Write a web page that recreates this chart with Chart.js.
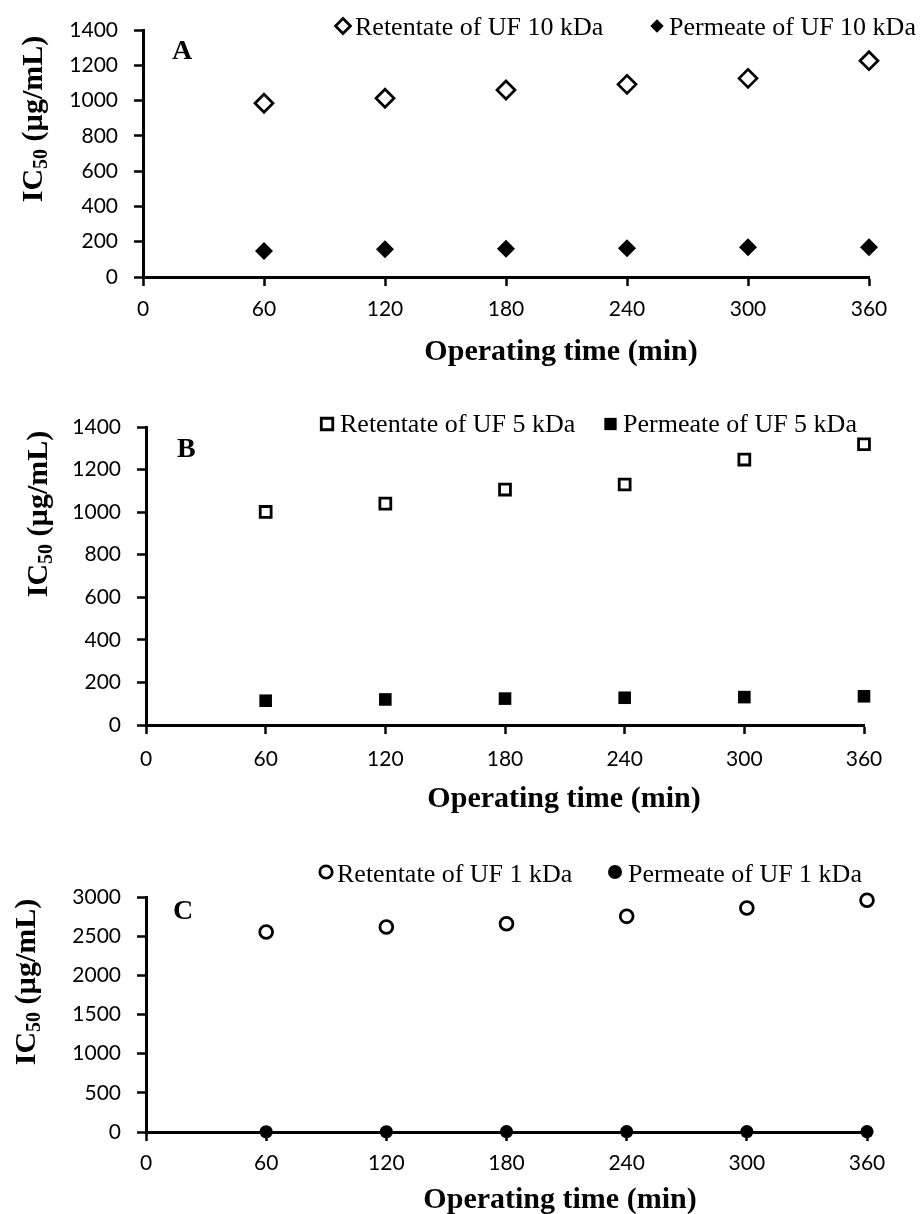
<!DOCTYPE html>
<html>
<head>
<meta charset="utf-8">
<script src="https://cdn.jsdelivr.net/npm/chart.js@4.4.1/dist/chart.umd.min.js"></script>
<style>
  html, body { margin: 0; padding: 0; background: #fff; }
  #wrap { position: relative; width: 922px; height: 1214px; }
  canvas { position: absolute; left: 0; }
</style>
</head>
<body>
<div id="wrap">
  <canvas id="panelA" width="922" height="380" style="top:0px"></canvas>
  <canvas id="panelB" width="922" height="450" style="top:380px"></canvas>
  <canvas id="panelC" width="922" height="384" style="top:830px"></canvas>
</div>
<script>
// Operating time (min)
const times = [60, 120, 180, 240, 300, 360];

// IC50 (µg/mL) per fraction
const retentate10 = [985, 1013, 1060, 1092, 1126, 1226];
const permeate10 = [147, 157, 160, 163, 168, 168];
const retentate5 = [1001, 1040, 1106, 1130, 1247, 1319];
const permeate5 = [114, 120, 124, 128, 131, 135];
const retentate1 = [2553, 2617, 2659, 2753, 2860, 2958];
const permeate1 = [3, 3, 4, 4, 5, 5];

// axis ticks
const xTicks = [0, 60, 120, 180, 240, 300, 360];
const yTicksAB = [0, 200, 400, 600, 800, 1000, 1200, 1400];
const yTicksC = [0, 500, 1000, 1500, 2000, 2500, 3000];

const serif = '"Liberation Serif", "Times New Roman", serif';
const sans = 'Lato, "Open Sans", sans-serif';

function toPoints(ys) {
  return times.map((t, i) => ({ x: t, y: ys[i] }));
}

function drawMarker(ctx, style, r, bw, fill, x, y) {
  ctx.save();
  ctx.lineWidth = bw;
  ctx.strokeStyle = "#000";
  ctx.fillStyle = fill;
  Chart.helpers.drawPoint(ctx, { pointStyle: style, radius: r, rotation: 0, borderWidth: bw }, x, y);
  ctx.restore();
}

// panel letter, axis titles and legend
const panelDecor = {
  id: "panelDecor",
  afterDraw(chart, args, opts) {
    const ctx = chart.ctx;
    const off = opts.offset;
    ctx.save();
    ctx.fillStyle = "#000";
    ctx.textBaseline = "alphabetic";

    ctx.font = "bold 28px " + serif;
    ctx.textAlign = "left";
    ctx.fillText(opts.letter, opts.letterX, opts.letterY - off);

    ctx.font = "bold 30px " + serif;
    ctx.textAlign = "center";
    ctx.fillText("Operating time (min)", opts.xTitleX, opts.xTitleY - off);

    // legend entries
    ctx.font = "26px " + serif;
    ctx.textAlign = "left";
    chart.data.datasets.forEach((ds, i) => {
      const item = opts.legend[i];
      drawMarker(ctx, ds.pointStyle, item.r, ds.pointBorderWidth, ds.pointBackgroundColor, item.mx, opts.legendY - off);
      ctx.fillStyle = "#000";
      ctx.fillText(ds.label, item.tx, opts.legendBase - off);
    });

    // rotated y title with subscript
    ctx.translate(opts.yTitleX, opts.yTitleY - off);
    ctx.rotate(-Math.PI / 2);
    const big = "bold 30px " + serif;
    const small = "bold 20px " + serif;
    ctx.font = big;
    const w1 = ctx.measureText("IC").width;
    const w3 = ctx.measureText(" (µg/mL)").width;
    ctx.font = small;
    const w2 = ctx.measureText("50").width;
    const x0 = -(w1 + w2 + w3) / 2;
    ctx.font = big;
    ctx.fillText("IC", x0, 0);
    ctx.font = small;
    ctx.fillText("50", x0 + w1, 5);
    ctx.font = big;
    ctx.fillText(" (µg/mL)", x0 + w1 + w2, 0);
    ctx.restore();
  },
};

function makePanel(id, box, sets, yMax, yTicks, decor) {
  const canvas = document.getElementById(id);
  const h = canvas.height;
  new Chart(canvas, {
    type: "scatter",
    data: { datasets: sets },
    options: {
      responsive: false,
      animation: false,
      devicePixelRatio: 1,
      layout: {
        padding: { top: box.top - decor.offset, right: 922 - box.right, left: 0, bottom: 0 },
      },
      plugins: {
        legend: { display: false },
        tooltip: { enabled: false },
        panelDecor: decor,
      },
      scales: {
        x: {
          type: "linear",
          min: 0,
          max: 360,
          afterBuildTicks: (s) => { s.ticks = xTicks.map((v) => ({ value: v })); },
          afterFit: (s) => { s.height = h - (box.bottom - decor.offset); },
          ticks: {
            color: "#000",
            padding: box.xPad,
            maxRotation: 0,
            font: { family: sans, size: 21 },
            callback: (v) => String(v),
          },
          grid: { drawOnChartArea: false, drawTicks: true, tickLength: 9, tickWidth: 2.5, tickColor: "#000" },
          border: { display: true, color: "#000", width: 3 },
        },
        y: {
          min: 0,
          max: yMax,
          afterBuildTicks: (s) => { s.ticks = yTicks.map((v) => ({ value: v })); },
          afterFit: (s) => { s.width = box.left; },
          ticks: {
            color: "#000",
            padding: 16,
            font: { family: sans, size: 21 },
            callback: (v) => String(v),
          },
          grid: { drawOnChartArea: false, drawTicks: true, tickLength: 9, tickWidth: 2.5, tickColor: "#000" },
          border: { display: true, color: "#000", width: 3 },
        },
      },
    },
    plugins: [panelDecor],
  });
}

function series(label, ys, style, r, filled, bw) {
  return {
    label: label,
    data: toPoints(ys),
    pointStyle: style,
    pointRadius: r,
    pointBorderWidth: filled ? 0 : bw,
    pointBorderColor: "#000",
    pointBackgroundColor: filled ? "#000" : "#fff",
    showLine: false,
    clip: false,
  };
}

makePanel(
  "panelA",
  { left: 143, right: 869, top: 30, bottom: 277, xPad: 11 },
  [
    series("Retentate of UF 10 kDa", retentate10, "rectRot", 9, false, 2.7),
    series("Permeate of UF 10 kDa", permeate10, "rectRot", 9, true, 0),
  ],
  1400, yTicksAB,
  {
    offset: 0, letter: "A", letterX: 172, letterY: 59,
    xTitleX: 561, xTitleY: 360, yTitleX: 42, yTitleY: 119,
    legendY: 26, legendBase: 35,
    legend: [{ mx: 343, tx: 355, r: 7.5 }, { mx: 657, tx: 669, r: 6.7 }],
  }
);

makePanel(
  "panelB",
  { left: 146, right: 864, top: 427, bottom: 725, xPad: 13 },
  [
    series("Retentate of UF 5 kDa", retentate5, "rect", 7.7, false, 2.8),
    series("Permeate of UF 5 kDa", permeate5, "rect", 8.9, true, 0),
  ],
  1400, yTicksAB,
  {
    offset: 380, letter: "B", letterX: 177, letterY: 457,
    xTitleX: 564, xTitleY: 807, yTitleX: 47, yTitleY: 514,
    legendY: 424, legendBase: 432,
    legend: [{ mx: 327, tx: 340, r: 8.1 }, { mx: 610.5, tx: 623, r: 8.7 }],
  }
);

makePanel(
  "panelC",
  { left: 146, right: 867, top: 897, bottom: 1132, xPad: 10 },
  [
    series("Retentate of UF 1 kDa", retentate1, "circle", 6.4, false, 2.8),
    series("Permeate of UF 1 kDa", permeate1, "circle", 6.6, true, 0),
  ],
  3000, yTicksC,
  {
    offset: 830, letter: "C", letterX: 173, letterY: 919,
    xTitleX: 560, xTitleY: 1208, yTitleX: 35, yTitleY: 982,
    legendY: 872, legendBase: 882,
    legend: [{ mx: 326, tx: 337, r: 6.2 }, { mx: 615, tx: 628, r: 7 }],
  }
);
</script>
</body>
</html>
